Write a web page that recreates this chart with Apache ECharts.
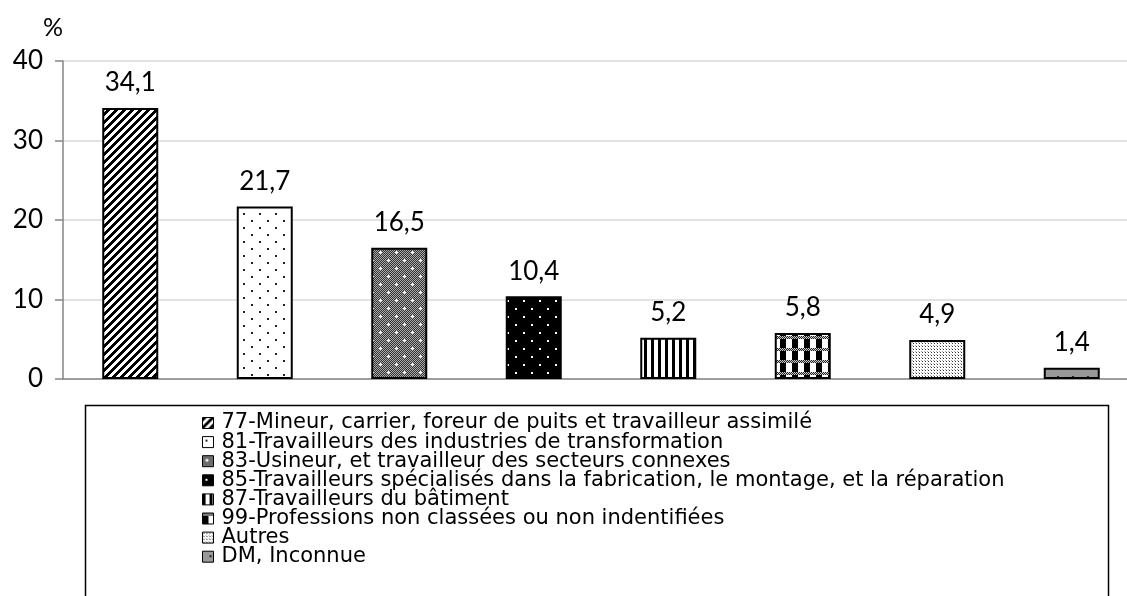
<!DOCTYPE html>
<html>
<head>
<meta charset="utf-8">
<script src="https://cdn.jsdelivr.net/npm/echarts@6/dist/echarts.min.js"></script>
<style>html,body{margin:0;padding:0;background:#fff;overflow:hidden}#c{width:1139px;height:596px}</style>
</head>
<body>
<div id="c"></div>
<script>
var categories = ['77-Mineur, carrier, foreur de puits et travailleur assimilé',
  '81-Travailleurs des industries de transformation',
  '83-Usineur, et travailleur des secteurs connexes',
  '85-Travailleurs spécialisés dans la fabrication, le montage, et la réparation',
  '87-Travailleurs du bâtiment',
  '99-Professions non classées ou non indentifiées',
  'Autres',
  'DM, Inconnue'];
var values = [34.1, 21.7, 16.5, 10.4, 5.2, 5.8, 4.9, 1.4];
var yTicks = [0, 10, 20, 30, 40];

function tile(w, h, fn) {
  var c = document.createElement('canvas');
  c.width = w; c.height = h;
  var ctx = c.getContext('2d');
  fn(ctx, w, h);
  return c;
}
function px(ctx, x, y, col, s) { ctx.fillStyle = col; ctx.fillRect(x, y, s || 1, s || 1); }

var patterns = [
  tile(8, 8, function (ctx, w, h) {
    ctx.fillStyle = '#fff'; ctx.fillRect(0, 0, w, h);
    for (var x = 0; x < w; x++) for (var y = 0; y < h; y++) if (((x + y) % 8) < 4) px(ctx, x, y, '#000');
  }),
  tile(16, 14, function (ctx, w, h) {
    ctx.fillStyle = '#fff'; ctx.fillRect(0, 0, w, h);
    px(ctx, 3, 3, '#222', 2); px(ctx, 11, 10, '#222', 2);
  }),
  tile(16, 16, function (ctx, w, h) {
    for (var x = 0; x < w; x++) for (var y = 0; y < h; y++) px(ctx, x, y, ((x + y) % 2) ? '#333' : '#aaa');
    ctx.fillStyle = '#fff';
    ctx.fillRect(3, 4, 3, 1); ctx.fillRect(4, 3, 1, 3);
    ctx.fillRect(11, 12, 3, 1); ctx.fillRect(12, 11, 1, 3);
  }),
  tile(16, 16, function (ctx, w, h) {
    ctx.fillStyle = '#000'; ctx.fillRect(0, 0, w, h);
    px(ctx, 3, 4, '#fff', 2); px(ctx, 11, 12, '#fff', 2);
  }),
  tile(7, 7, function (ctx, w, h) {
    ctx.fillStyle = '#fff'; ctx.fillRect(0, 0, w, h);
    ctx.fillStyle = '#000'; ctx.fillRect(0, 0, 3, h);
  }),
  tile(12, 12, function (ctx, w, h) {
    ctx.fillStyle = '#fff'; ctx.fillRect(0, 0, w, h);
    ctx.fillStyle = '#000'; ctx.fillRect(0, 3, 6, 9);
    for (var x = 0; x < w; x++) for (var y = 0; y < 3; y++) px(ctx, x, y, ((x + y) % 2) ? '#222' : '#ccc');
  }),
  tile(3, 3, function (ctx, w, h) {
    ctx.fillStyle = '#fff'; ctx.fillRect(0, 0, w, h);
    px(ctx, 1, 1, '#333'); px(ctx, 0, 0, '#aaa');
  }),
  tile(15, 12, function (ctx, w, h) {
    ctx.fillStyle = '#999'; ctx.fillRect(0, 0, w, h);
    px(ctx, 7, 4, '#222', 2);
  })
];

var chart = echarts.init(document.getElementById('c'), null, { renderer: 'canvas' });
var series = categories.map(function (name, i) {
  return {
    name: name,
    type: 'bar',
    barWidth: 56,
    barGap: '-100%',
    data: values.map(function (v, j) { return j === i ? v : '-'; }),
    itemStyle: { color: { image: patterns[i], repeat: 'repeat' }, borderColor: '#000', borderWidth: 2 },
    label: {
      show: true, position: 'top', distance: 12,
      fontFamily: 'Lato', fontSize: 26, color: '#000',
      formatter: function (p) { return String(p.value).replace('.', ','); }
    },
    animation: false
  };
});

chart.setOption({
  animation: false,
  title: { text: '%', left: 38, top: 10, textStyle: { fontFamily: 'Lato', fontSize: 25, fontWeight: 'normal', color: '#000' } },
  grid: { left: 63, right: 0, top: 61, bottom: 217 },
  xAxis: {
    type: 'category', data: categories,
    axisLine: { lineStyle: { color: '#868686', width: 1.5 } },
    axisTick: { show: false }, axisLabel: { show: false }
  },
  yAxis: {
    type: 'value', min: yTicks[0], max: yTicks[yTicks.length - 1], interval: 10,
    axisLine: { show: true, lineStyle: { color: '#868686', width: 1.5 } },
    axisTick: { show: true, length: 8, lineStyle: { color: '#868686', width: 1.5 } },
    splitLine: { lineStyle: { color: '#d9d9d9', width: 1.5 } },
    axisLabel: { fontFamily: 'Lato', fontSize: 26, color: '#000', margin: 20 }
  },
  legend: {
    orient: 'vertical', left: 197, top: 406, height: 400,
    data: categories, icon: 'rect', itemWidth: 11, itemHeight: 11, itemGap: -4.9,
    itemStyle: { borderColor: '#000', borderWidth: 1 },
    textStyle: { fontFamily: 'DejaVu Sans', fontSize: 21, lineHeight: 24, color: '#000', padding: [0, 0, 0, 3] },
    selectedMode: false
  },
  graphic: [{
    type: 'rect', left: 83, top: 403, silent: true,
    shape: { width: 1023, height: 220 },
    style: { fill: 'none', stroke: '#000', lineWidth: 1.5 }
  }],
  series: series
});
</script>
</body>
</html>
